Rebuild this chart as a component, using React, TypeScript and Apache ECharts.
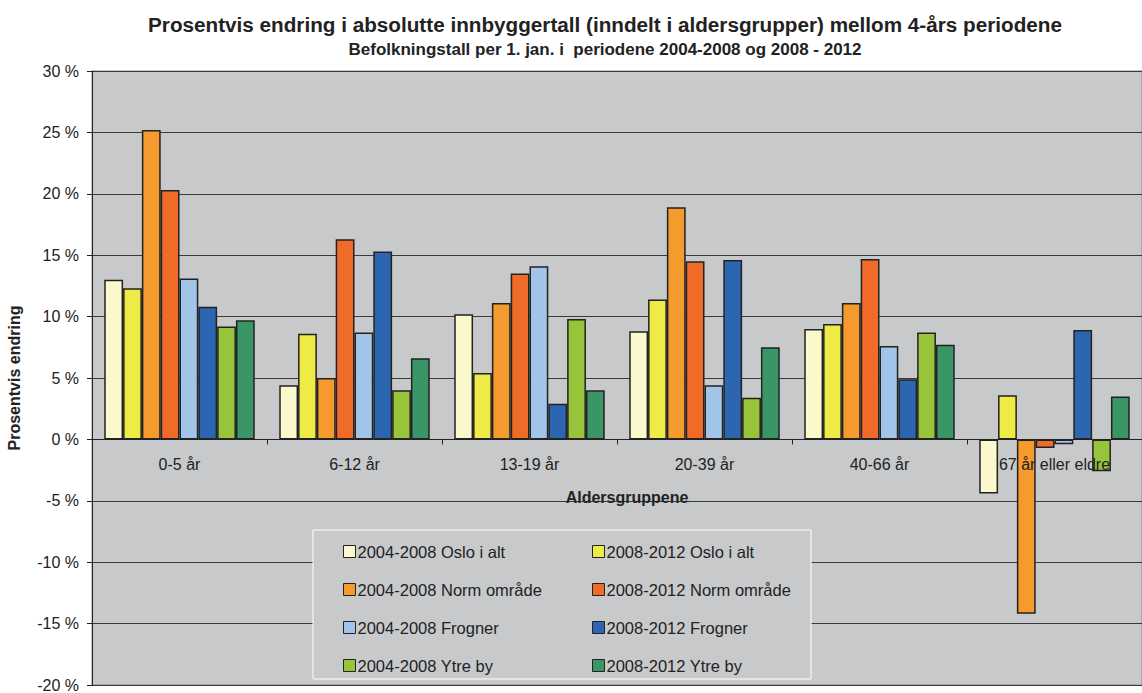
import React, { useEffect, useRef } from "react";
import * as echarts from "echarts";

const categories = ["0-5 år", "6-12 år", "13-19 år", "20-39 år", "40-66 år", "67 år eller eldre"];
const seriesNames = [
  "2004-2008 Oslo i alt",
  "2008-2012 Oslo i alt",
  "2004-2008 Norm område",
  "2008-2012 Norm område",
  "2004-2008 Frogner",
  "2008-2012 Frogner",
  "2004-2008 Ytre by",
  "2008-2012 Ytre by",
];
const oslo0408 = [13.0, 4.4, 10.2, 8.8, 9.0, -4.4];
const oslo0812 = [12.3, 8.6, 5.4, 11.4, 9.4, 3.6];
const norm0408 = [25.2, 5.0, 11.1, 18.9, 11.1, -14.2];
const norm0812 = [20.3, 16.3, 13.5, 14.5, 14.7, -0.7];
const frog0408 = [13.1, 8.7, 14.1, 4.4, 7.6, -0.4];
const frog0812 = [10.8, 15.3, 2.9, 14.6, 4.9, 8.9];
const ytre0408 = [9.2, 4.0, 9.8, 3.4, 8.7, -2.6];
const ytre0812 = [9.7, 6.6, 4.0, 7.5, 7.7, 3.5];
const seriesData = [oslo0408, oslo0812, norm0408, norm0812, frog0408, frog0812, ytre0408, ytre0812];
const colors = ["#faf8cc", "#eeea46", "#f59a2c", "#f06a28", "#a0c5e8", "#2d66b0", "#98c43c", "#3a9666"];

const yMin = -20;
const yMax = 30;
const yStep = 5;

const FONT = "Arial, 'Liberation Sans', sans-serif";

export default function App() {
  const ref = useRef<HTMLDivElement>(null);
  useEffect(() => {
    if (!ref.current) return;
    const chart = echarts.init(ref.current, null, { renderer: "svg" });
    const legendCommon = {
      orient: "vertical",
      top: 538,
      itemWidth: 12,
      itemHeight: 12,
      itemGap: 21,
      icon: "rect",
      z: 6,
      textStyle: { fontFamily: FONT, fontSize: 16.5, color: "#222", padding: [0, 0, 0, -3] },
      itemStyle: { borderColor: "#222", borderWidth: 1 },
    };
    chart.setOption({
      animation: false,
      backgroundColor: "#ffffff",
      textStyle: { fontFamily: FONT },
      title: [
        {
          text: "Prosentvis endring i absolutte innbyggertall (inndelt i aldersgrupper) mellom 4-års periodene",
          left: 600,
          textAlign: "center",
          top: 9,
          textStyle: { fontFamily: FONT, fontSize: 20.7, fontWeight: "bold", color: "#222" },
        },
        {
          text: "Befolkningstall per 1. jan. i  periodene 2004-2008 og 2008 - 2012",
          left: 600,
          textAlign: "center",
          top: 36,
          textStyle: { fontFamily: FONT, fontSize: 17, fontWeight: "bold", color: "#222" },
        },
      ],
      legend: [
        { ...legendCommon, left: 338, data: [seriesNames[0], seriesNames[2], seriesNames[4], seriesNames[6]] },
        { ...legendCommon, left: 587, data: [seriesNames[1], seriesNames[3], seriesNames[5], seriesNames[7]] },
      ],
      graphic: [
        {
          type: "rect",
          z: 5,
          shape: { x: 313, y: 530, width: 498, height: 149 },
          style: { fill: "#c8c9cb", stroke: "#ffffff", lineWidth: 1 },
          silent: true,
        },
      ],
      grid: {
        left: 92,
        top: 71,
        right: 0,
        bottom: 8,
        containLabel: false,
        outerBoundsMode: "none",
        show: true,
        backgroundColor: "#c8c9cb",
        borderColor: "#8a8a8a",
        borderWidth: 1,
      },
      xAxis: {
        type: "category",
        data: categories,
        position: "bottom",
        offset: 0,
        axisLine: { onZero: false, lineStyle: { color: "#222", width: 1 } },
        axisTick: { show: true, length: 5, lineStyle: { color: "#222" } },
        axisLabel: { fontFamily: FONT, fontSize: 16, color: "#222", margin: 17, interval: 0 },
        name: "Aldersgruppene",
        nameLocation: "middle",
        nameGap: 50,
        nameTextStyle: { fontFamily: FONT, fontSize: 16, fontWeight: "bold", color: "#222", padding: [0, 0, 0, 20] },
        z: 5,
      },
      yAxis: {
        type: "value",
        min: yMin,
        max: yMax,
        interval: yStep,
        axisLine: { show: true, lineStyle: { color: "#222" } },
        axisTick: { show: true, length: 5, lineStyle: { color: "#222" } },
        axisLabel: { fontFamily: FONT, fontSize: 16, color: "#222", margin: 13, formatter: (v: number) => `${v} %` },
        splitLine: { show: true, lineStyle: { color: "#3a3a3a", width: 1 } },
        name: "Prosentvis endring",
        nameLocation: "middle",
        nameGap: 70,
        nameRotate: 90,
        nameTextStyle: { fontFamily: FONT, fontSize: 16, fontWeight: "bold", color: "#222" },
      },
      series: seriesNames.map((name, i) => ({
        name,
        type: "bar",
        data: seriesData[i],
        barGap: "0%",
        barCategoryGap: "14%",
        itemStyle: { color: colors[i], borderColor: "#222", borderWidth: 1.5 },
        z: 3,
      })),
    });
    // place the category axis on the zero line, using the value axis scale
    const zeroY = chart.convertToPixel({ yAxisIndex: 0 }, 0) as number;
    const bottomY = chart.convertToPixel({ yAxisIndex: 0 }, yMin) as number;
    chart.setOption({ xAxis: { offset: zeroY - bottomY } });
    return () => chart.dispose();
  }, []);
  return <div ref={ref} style={{ width: 1142, height: 693, position: "absolute", left: 0, top: 0 }} />;
}
